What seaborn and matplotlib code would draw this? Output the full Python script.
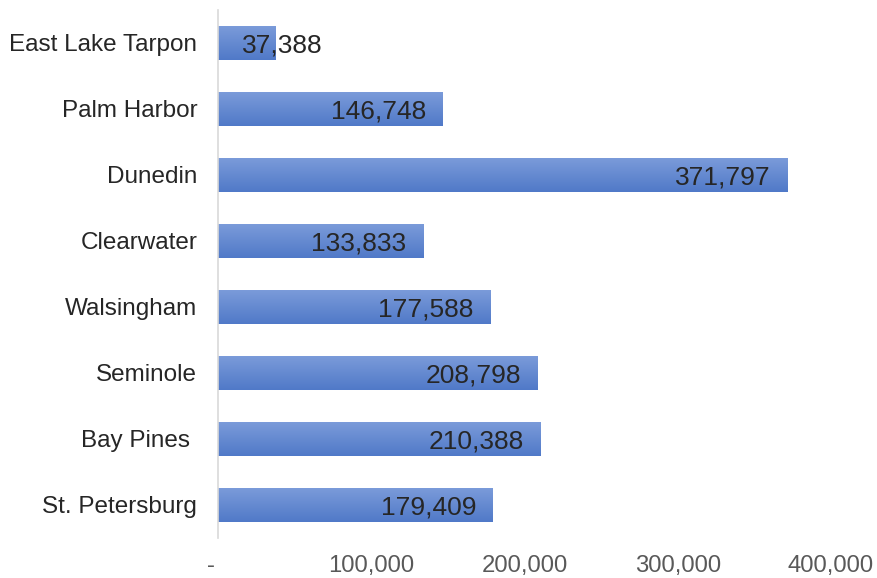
import matplotlib
matplotlib.use("Agg")
import matplotlib.pyplot as plt
import matplotlib.colors as mcolors
import seaborn as sns
import numpy as np
import pandas as pd

# Data
locations = ["East Lake Tarpon", "Palm Harbor", "Dunedin", "Clearwater",
             "Walsingham", "Seminole", "Bay Pines ", "St. Petersburg"]
values = [37388, 146748, 371797, 133833, 177588, 208798, 210388, 179409]
x_ticks = [0, 100000, 200000, 300000, 400000]
x_tick_labels = ["-  ", "100,000", "200,000", "300,000", "400,000"]

df = pd.DataFrame({"location": locations, "value": values})

sns.set_style("white")
plt.rcParams["font.family"] = ["Liberation Sans", "DejaVu Sans"]

fig = plt.figure(figsize=(8.77, 5.78), dpi=100)
ax = fig.add_axes([0.2486, 0.0692, 0.6989, 0.9138])

sns.barplot(data=df, x="value", y="location", order=locations,
            color="#6288d0", width=0.52, ax=ax, saturation=1)

# Vertical gradient fill clipped to each bar
cmap = mcolors.LinearSegmentedColormap.from_list("bar", ["#7c9cda", "#5079c8"])
grad = np.linspace(0, 1, 256).reshape(-1, 1)
for patch in ax.patches:
    x0, y0 = patch.get_x(), patch.get_y()
    w, h = patch.get_width(), patch.get_height()
    patch.set_facecolor("none")
    patch.set_edgecolor("none")
    im = ax.imshow(grad, cmap=cmap, aspect="auto",
                   extent=(x0, x0 + w, y0 + h, y0), origin="upper", zorder=2)
    im.set_clip_path(patch)

ax.set_xlim(0, 400000)
ax.set_ylim(len(locations) - 0.5, -0.5)

# Data labels, inside end
for i, v in enumerate(values):
    label = f"{v:,}"
    if v < 60000:
        ax.annotate(label, xy=(0, i), xytext=(17, 0), textcoords="offset points",
                    ha="left", va="center_baseline", fontsize=19, color="#262626", zorder=3)
    else:
        ax.annotate(label, xy=(v, i), xytext=(-12, 0), textcoords="offset points",
                    ha="right", va="center_baseline", fontsize=19, color="#262626", zorder=3)

ax.set_xticks(x_ticks)
ax.set_xticklabels(x_tick_labels)
ax.set_xlabel("")
ax.set_ylabel("")
ax.tick_params(axis="x", length=0, pad=12, labelsize=17.2, labelcolor="#595959")
ax.tick_params(axis="y", length=0, pad=15, labelsize=17.5, labelcolor="#262626")

for side in ["top", "right", "bottom"]:
    ax.spines[side].set_visible(False)
ax.spines["left"].set_color("#d9d9d9")
ax.spines["left"].set_linewidth(1.2)
ax.grid(False)

fig.savefig("out.png", dpi=100)
